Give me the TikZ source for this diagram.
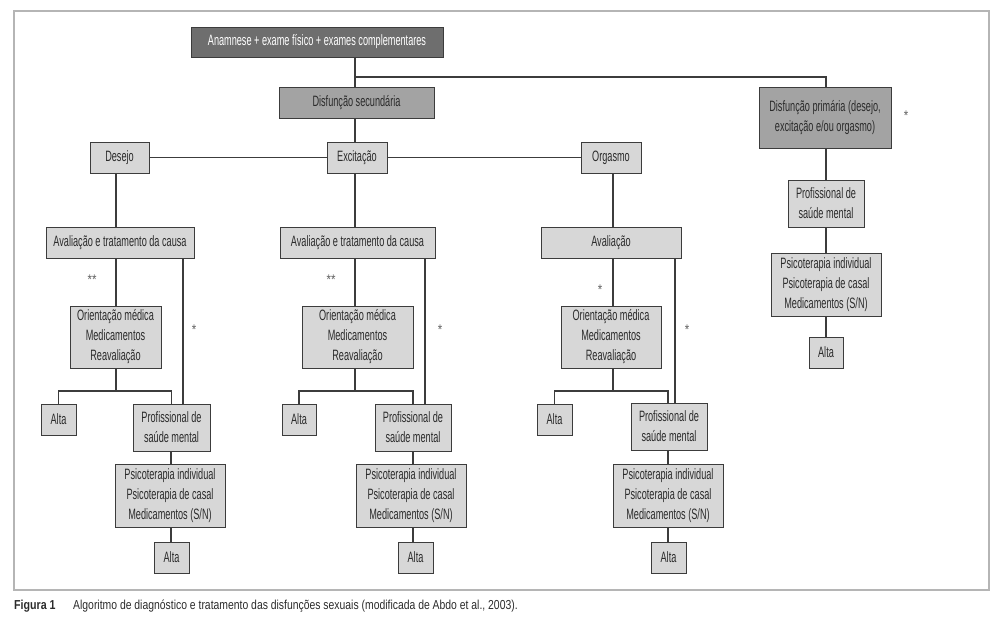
\documentclass[tikz,border=0pt]{standalone}
\usepackage{fontspec}
\setmainfont{Liberation Sans}[FakeStretch=0.61]
\newfontfamily\capfam{Liberation Sans}[FakeStretch=0.82]
\newfontfamily\captext{Liberation Sans}[FakeStretch=0.80]
\definecolor{dk}{HTML}{6E6E6E}
\definecolor{md}{HTML}{A3A3A3}
\definecolor{lt}{HTML}{D7D7D7}
\definecolor{edge}{HTML}{3C3C3C}
\definecolor{ink}{HTML}{2B2B2B}
\definecolor{framec}{HTML}{B5B5B5}
\tikzset{
  base/.style={draw=edge, line width=0.9pt, inner sep=0pt, align=center, text=ink,
    font=\fontsize{15}{20}\selectfont},
  dkbox/.style={base, fill=dk, text=white},
  mdbox/.style={base, fill=md},
  ltbox/.style={base, fill=lt},
  conn/.style={draw=edge, line width=1.2pt},
  note/.style={font=\capfam\fontsize{14}{14}\selectfont, text=ink!75, inner sep=0pt},
  captxt/.style={anchor=west, inner sep=0pt, text=ink, font=\captext\fontsize{13}{13}\selectfont},
}
\begin{document}
\begin{tikzpicture}[x=1pt, y=-1pt]
\useasboundingbox (0,0) rectangle (1000,632);
\draw[framec, line width=1.5pt] (14,11) rectangle (989,590);

% column guide coordinates
\coordinate (c1) at (116,0);
\coordinate (r1) at (183,0);
\coordinate (v1) at (171,0);
\coordinate (c2) at (355,0);
\coordinate (r2) at (425,0);
\coordinate (v2) at (413,0);
\coordinate (c3) at (613,0);
\coordinate (r3) at (675,0);
\coordinate (v3) at (668,0);
\coordinate (c4) at (826,0);
\coordinate (j0) at (355,77);
\coordinate (j1) at (116,391);
\coordinate (j2) at (355,391);
\coordinate (j3) at (613,391);

% top level
\node[dkbox, minimum width=252pt, minimum height=30pt] (top) at (317,42) {Anamnese + exame físico + exames complementares};
\node[mdbox, minimum width=155pt, minimum height=31pt] (sec) at (356.5,102.5) {Disfunção secundária};
\node[mdbox, minimum width=132pt, minimum height=61pt] (prim) at (825,117.5) {Disfunção primária (desejo,\\excitação e/ou orgasmo)};
\node[note] (s0) at (906,116) {*};

\node[ltbox, minimum width=59pt, minimum height=31pt] (des) at (119.5,157.5) {Desejo};
\node[ltbox, minimum width=60pt, minimum height=31pt] (exc) at (357,157.5) {Excitação};
\node[ltbox, minimum width=60pt, minimum height=31pt] (org) at (611,157.5) {Orgasmo};

% column 1
\node[ltbox, minimum width=148pt, minimum height=31pt] (av1) at (120,242.5) {Avaliação e tratamento da causa};
\node[ltbox, minimum width=91pt, minimum height=62pt] (or1) at (115.5,337) {Orientação médica\\Medicamentos\\Reavaliação};
\node[ltbox, minimum width=35pt, minimum height=31pt] (aa1) at (58.5,419.5) {Alta};
\node[ltbox, minimum width=77pt, minimum height=47pt] (pr1) at (171.5,427.5) {Profissional de\\saúde mental};
\node[ltbox, minimum width=110pt, minimum height=63pt] (ps1) at (170,495.5) {Psicoterapia individual\\Psicoterapia de casal\\Medicamentos (S/N)};
\node[ltbox, minimum width=35pt, minimum height=31pt] (ab1) at (171.5,557.5) {Alta};
\node[note] (s1a) at (92,280) {**};
\node[note] (s1b) at (194,330) {*};

% column 2
\node[ltbox, minimum width=155pt, minimum height=31pt] (av2) at (357.5,242.5) {Avaliação e tratamento da causa};
\node[ltbox, minimum width=111pt, minimum height=62pt] (or2) at (357.5,337) {Orientação médica\\Medicamentos\\Reavaliação};
\node[ltbox, minimum width=34pt, minimum height=31pt] (aa2) at (299,419.5) {Alta};
\node[ltbox, minimum width=76pt, minimum height=47pt] (pr2) at (413,427.5) {Profissional de\\saúde mental};
\node[ltbox, minimum width=110pt, minimum height=63pt] (ps2) at (411,495.5) {Psicoterapia individual\\Psicoterapia de casal\\Medicamentos (S/N)};
\node[ltbox, minimum width=35pt, minimum height=31pt] (ab2) at (415.5,557.5) {Alta};
\node[note] (s2a) at (331,280) {**};
\node[note] (s2b) at (440,330) {*};

% column 3
\node[ltbox, minimum width=140pt, minimum height=31pt] (av3) at (611,242.5) {Avaliação};
\node[ltbox, minimum width=100pt, minimum height=62pt] (or3) at (611,337) {Orientação médica\\Medicamentos\\Reavaliação};
\node[ltbox, minimum width=35pt, minimum height=31pt] (aa3) at (554.5,419.5) {Alta};
\node[ltbox, minimum width=76pt, minimum height=47pt] (pr3) at (669,426.5) {Profissional de\\saúde mental};
\node[ltbox, minimum width=110pt, minimum height=63pt] (ps3) at (668,495.5) {Psicoterapia individual\\Psicoterapia de casal\\Medicamentos (S/N)};
\node[ltbox, minimum width=35pt, minimum height=31pt] (ab3) at (668.5,557.5) {Alta};
\node[note] (s3a) at (600,290) {*};
\node[note] (s3b) at (687,330) {*};

% column 4
\node[ltbox, minimum width=76pt, minimum height=47pt] (pr4) at (826,203.5) {Profissional de\\saúde mental};
\node[ltbox, minimum width=110pt, minimum height=63pt] (ps4) at (826,284.5) {Psicoterapia individual\\Psicoterapia de casal\\Medicamentos (S/N)};
\node[ltbox, minimum width=34pt, minimum height=31pt] (ab4) at (826,352.5) {Alta};

% connectors top
\draw[conn] (top.south -| c2) -- (sec.north -| c2);
\draw[conn] (j0) -| (prim.north -| c4);
\draw[conn] (sec.south -| c2) -- (exc.north -| c2);
\draw[conn] (des.east) -- (exc.west);
\draw[conn] (exc.east) -- (org.west);

% connectors column 1
\draw[conn] (des.south -| c1) -- (av1.north -| c1);
\draw[conn] (av1.south -| c1) -- (or1.north -| c1);
\draw[conn] (or1.south -| c1) -- (j1);
\draw[conn] (aa1.north) |- (j1) -| (pr1.north);
\draw[conn] (av1.south -| r1) -- (pr1.north -| r1);
\draw[conn] (pr1.south -| v1) -- (ps1.north -| v1);
\draw[conn] (ps1.south -| v1) -- (ab1.north -| v1);

% connectors column 2
\draw[conn] (exc.south -| c2) -- (av2.north -| c2);
\draw[conn] (av2.south -| c2) -- (or2.north -| c2);
\draw[conn] (or2.south -| c2) -- (j2);
\draw[conn] (aa2.north) |- (j2) -| (pr2.north);
\draw[conn] (av2.south -| r2) -- (pr2.north -| r2);
\draw[conn] (pr2.south -| v2) -- (ps2.north -| v2);
\draw[conn] (ps2.south -| v2) -- (ab2.north -| v2);

% connectors column 3
\draw[conn] (org.south -| c3) -- (av3.north -| c3);
\draw[conn] (av3.south -| c3) -- (or3.north -| c3);
\draw[conn] (or3.south -| c3) -- (j3);
\draw[conn] (aa3.north) |- (j3) -| (pr3.north -| v3);
\draw[conn] (av3.south -| r3) -- (pr3.north -| r3);
\draw[conn] (pr3.south -| v3) -- (ps3.north -| v3);
\draw[conn] (ps3.south -| v3) -- (ab3.north -| v3);

% connectors column 4
\draw[conn] (prim.south -| c4) -- (pr4.north -| c4);
\draw[conn] (pr4.south -| c4) -- (ps4.north -| c4);
\draw[conn] (ps4.south -| c4) -- (ab4.north -| c4);

% caption
\node[captxt, font=\capfam\bfseries\fontsize{13}{13}\selectfont] (fig) at (14,606) {Figura 1};
\node[captxt] (cap) at (73,606) {Algoritmo de diagnóstico e tratamento das disfunções sexuais (modificada de Abdo et al., 2003).};
\end{tikzpicture}
\end{document}
